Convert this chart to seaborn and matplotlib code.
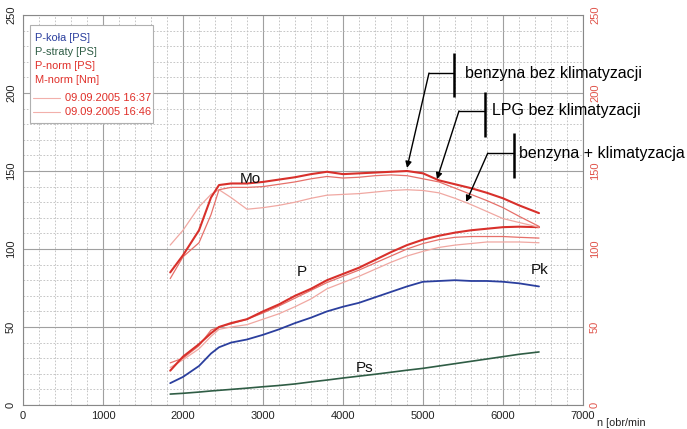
import numpy as np
import pandas as pd
import matplotlib
matplotlib.use("Agg")
import matplotlib.pyplot as plt
from matplotlib.patches import Rectangle
from matplotlib.ticker import MultipleLocator
import seaborn as sns

# ---------------- data ----------------
rpm = [1840, 2000, 2200, 2350, 2450, 2600, 2800, 3000, 3200, 3400, 3600, 3800, 4000,
       4200, 4400, 4600, 4800, 5000, 5200, 5400, 5600, 5800, 6000, 6200, 6450]

# torque curves (M-norm)
mo_benz = [85, 96, 112, 133, 141, 142, 142, 143, 144.5, 146, 148, 149.5, 148,
           148.5, 149, 149.5, 150, 148.5, 144, 141.5, 139, 136, 132.5, 128, 123]
mo_lpg = [81, 95, 104, 122, 138, 139.5, 139.5, 140, 141.5, 143, 145, 146.5, 145.5,
          146, 147, 147.5, 147, 145, 143, 139, 135, 131, 126.5, 121, 114.5]
mo_klim = [102.5, 112, 127, 135, 138, 133, 125.5, 126.5, 128, 130, 132.5, 134.5, 135,
           135.5, 136.5, 137.5, 138, 137.5, 136, 132.5, 128.5, 124, 119.5, 117, 114]

# power curves (P-norm)
p_benz = [22, 31, 39, 46, 50, 52.5, 55, 60, 64.5, 70, 74.5, 80, 84,
          88, 93, 98, 102.5, 106, 108.5, 110.5, 112, 113, 114, 114.3, 114]
p_lpg = [27, 30, 38, 48, 50, 52, 55, 59, 63.5, 68.5, 73.5, 78.5, 82.5,
         86.5, 91, 95.5, 100, 103.5, 106, 107.5, 108, 108, 108, 107.5, 107]
p_klim = [24, 29, 36, 44, 48.5, 50, 51.5, 55, 58.5, 63, 68, 74.5, 78.5,
          82.5, 87, 91.5, 95.5, 98.5, 101, 102.5, 103.5, 104.5, 104.5, 104.5, 104]

# wheel power (P-koła) and losses (P-straty)
p_kola = [14, 18, 25, 33, 37, 40, 42, 45, 48.5, 52.5, 56, 60, 63,
          65.5, 69, 72.5, 76, 79, 79.5, 80, 79.5, 79.5, 79, 78, 76]
p_straty = [7, 7.5, 8.3, 9, 9.4, 10, 10.8, 11.7, 12.5, 13.5, 14.8, 16, 17.3,
            18.5, 19.7, 21, 22.3, 23.5, 25, 26.5, 28, 29.5, 31, 32.5, 34]

x_ticks = [0, 1000, 2000, 3000, 4000, 5000, 6000, 7000]
y_ticks = [0, 50, 100, 150, 200, 250]

legend_items = ["P-koła [PS]", "P-straty [PS]", "P-norm [PS]", "M-norm [Nm]"]
legend_dates = ["09.09.2005 16:37", "09.09.2005 16:46"]
annot_labels = ["benzyna bez klimatyzacji", "LPG bez klimatyzacji", "benzyna + klimatyzacja"]

# ---------------- styling ----------------
sns.set_theme(style="white")
plt.rcParams["font.family"] = ["Liberation Sans", "DejaVu Sans"]

W, H = 687, 429
fig = plt.figure(figsize=(W / 100, H / 100), dpi=100)
L, R, T, B = 23, 583, 15, 405
ax = fig.add_axes([L / W, 1 - B / H, (R - L) / W, (B - T) / H])

RED = "#d8302b"
RED2 = "#e6706a"
RED3 = "#f0a8a2"
BLUE = "#2b3f9e"
GREEN = "#2f5d45"

series = [
    (p_straty, GREEN, 1.2),
    (p_kola, BLUE, 1.3),
    (p_klim, RED3, 0.9),
    (p_lpg, RED2, 0.9),
    (p_benz, RED, 1.5),
    (mo_klim, RED3, 0.9),
    (mo_lpg, RED2, 0.9),
    (mo_benz, RED, 1.5),
]
for vals, col, lw in series:
    df = pd.DataFrame({"rpm": rpm, "v": vals})
    sns.lineplot(data=df, x="rpm", y="v", ax=ax, color=col, linewidth=lw, zorder=3)

ax.set_xlim(0, 7000)
ax.set_ylim(0, 250)
ax.set_xlabel("")
ax.set_ylabel("")
ax.set_xticks(x_ticks)
ax.set_yticks(y_ticks)
ax.xaxis.set_minor_locator(MultipleLocator(200))
ax.yaxis.set_minor_locator(MultipleLocator(10))
ax.grid(which="major", color="#a0a0a0", linewidth=0.8, linestyle="-")
ax.grid(which="minor", color="#bdbdbd", linewidth=0.6, linestyle=(0, (2, 2)))
ax.set_axisbelow(True)
for s in ax.spines.values():
    s.set_color("#888888")
    s.set_linewidth(0.8)
ax.tick_params(axis="both", which="both", length=0)
ax.tick_params(axis="x", labelsize=8, pad=4, labelcolor="#222222")
ax.tick_params(axis="y", labelsize=8, pad=5, labelcolor="#222222")
for lab in ax.get_yticklabels():
    lab.set_rotation(90)
    lab.set_va("center")

ax2 = ax.twinx()
ax2.set_ylim(0, 250)
ax2.set_yticks(y_ticks)
ax2.tick_params(axis="y", length=0, labelsize=8, pad=5, labelcolor="#e0554c")
for lab in ax2.get_yticklabels():
    lab.set_rotation(90)
    lab.set_va("center")
for s in ax2.spines.values():
    s.set_visible(False)
ax2.grid(False)

# curve labels
lbl_kw = dict(fontsize=11, color="#111111", zorder=6)
ax.text(2840, 145, "Mo", ha="center", va="center", **lbl_kw)
ax.text(3490, 85, "P", ha="center", va="center", **lbl_kw)
ax.text(6460, 86.5, "Pk", ha="center", va="center", **lbl_kw)
ax.text(4275, 24, "Ps", ha="center", va="center", **lbl_kw)

# annotation brackets with arrows
annots = [
    (annot_labels[0], mo_benz, 4800, 2.0, 5390, 225.6, 197.4, 212.8, 5075, 5525),
    (annot_labels[1], mo_lpg, 5175, 1.5, 5775, 200.6, 171.8, 188.5, 5450, 5862),
    (annot_labels[2], mo_klim, 5540, 0.5, 6140, 174.4, 145.5, 161.5, 5810, 6200),
]
for text, curve, tip_x, off, bar_x, bar_y0, bar_y1, hy, knee_x, text_x in annots:
    tip_y = float(np.interp(tip_x, rpm, curve)) + off
    ax.plot([bar_x, bar_x], [bar_y0, bar_y1], color="black", lw=1.8, zorder=7,
            solid_capstyle="butt", clip_on=False)
    ax.plot([bar_x, knee_x], [hy, hy], color="black", lw=1.0, zorder=7, clip_on=False)
    ax.annotate("", xy=(tip_x, tip_y), xytext=(knee_x, hy),
                arrowprops=dict(arrowstyle="-|>", color="black", lw=1.0,
                                mutation_scale=9, shrinkA=0, shrinkB=0),
                zorder=7, annotation_clip=False)
    ax.text(text_x, hy, text, fontsize=11.5, color="black", ha="left", va="center",
            zorder=7, clip_on=False)

# legend box (drawn in figure pixels)
def fx(px):
    return px / W

def fy(py):
    return 1 - py / H

ax.add_patch(Rectangle((fx(30), fy(123)), fx(153) - fx(30), fy(25) - fy(123),
                       transform=fig.transFigure, facecolor="white",
                       edgecolor="#b0b0b0", linewidth=0.8, zorder=8, clip_on=False))
leg_cols = [BLUE, GREEN, "#e0302a", "#e0302a"]
for i, (t, c) in enumerate(zip(legend_items, leg_cols)):
    fig.text(fx(35), fy(38 + 14 * i), t, fontsize=7.9, color=c, ha="left",
             va="center", zorder=9)
for i, t in enumerate(legend_dates):
    yy = fy(98 + 14 * i)
    fig.add_artist(plt.Line2D([fx(33), fx(60)], [yy, yy], color="#f2b0ab", lw=0.8,
                              zorder=9, transform=fig.transFigure))
    fig.text(fx(65), yy, t, fontsize=8, color="#e0302a", ha="left", va="center",
             zorder=9)

fig.text(fx(597), fy(423), "n [obr/min", fontsize=7.8, color="#222222",
         ha="left", va="center")

fig.savefig("out.png", dpi=100)
